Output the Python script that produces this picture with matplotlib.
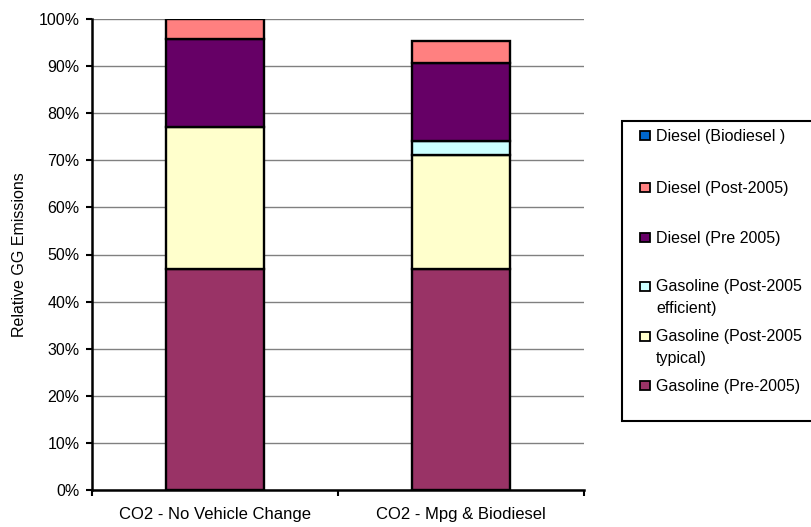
import matplotlib
matplotlib.use('Agg')
import matplotlib.pyplot as plt
from matplotlib.patches import Rectangle
import numpy as np

plt.rcParams['font.family'] = ['Liberation Sans', 'DejaVu Sans']

categories = ['CO2 - No Vehicle Change', 'CO2 - Mpg & Biodiesel']
series = ['Gasoline (Pre-2005)', 'Gasoline (Post-2005\ntypical)',
          'Gasoline (Post-2005\nefficient)', 'Diesel (Pre 2005)',
          'Diesel (Post-2005)', 'Diesel (Biodiesel )']
gas_pre = [47.0, 47.0]
gas_typical = [30.1, 24.1]
gas_efficient = [0.0, 2.9]
diesel_pre = [18.6, 16.7]
diesel_post = [4.3, 4.6]
diesel_bio = [0.0, 0.0]
values = [gas_pre, gas_typical, gas_efficient, diesel_pre, diesel_post, diesel_bio]
colors = ['#993366', '#FFFFCC', '#CCFFFF', '#660066', '#FF8080', '#0066CC']

W, H = 811, 527
fig = plt.figure(figsize=(W / 100, H / 100), dpi=100)
ax = fig.add_axes([92 / W, 1 - 490 / H, (584 - 92) / W, (490 - 19) / H])

x = np.arange(len(categories))
bottom = np.zeros(len(categories))
for vals, col in zip(values, colors):
    vals = np.array(vals)
    mask = vals > 0
    ax.bar(x[mask], vals[mask], 0.4, bottom=bottom[mask], color=col,
           edgecolor='black', linewidth=1.7, zorder=3)
    bottom += vals

ax.set_xlim(-0.5, 1.5)
ax.set_ylim(0, 100)
ax.set_yticks(np.arange(0, 101, 10))
ax.set_yticklabels([f'{v}%' for v in range(0, 101, 10)])
ax.yaxis.grid(True, color='#808080', linewidth=1, zorder=0)
ax.set_xticks([-0.5, 0.5, 1.5])
ax.set_xticklabels([])
ax.set_xticks(x, minor=True)
ax.set_xticklabels(categories, minor=True)
ax.tick_params(axis='x', which='minor', length=0, pad=12, labelsize=12)
ax.tick_params(axis='x', which='major', length=4, width=1.5, direction='out')
ax.tick_params(axis='y', length=4, width=1.5, pad=5, labelsize=11.5)
for s in ['top', 'right']:
    ax.spines[s].set_visible(False)
for s in ['left', 'bottom']:
    ax.spines[s].set_linewidth(1.8)
ax.set_ylabel('Relative GG Emissions', fontsize=11.5, labelpad=8)

# legend box (runs off the right edge like the original)
def fy(y):
    return 1 - y / H

fig.add_artist(Rectangle((622 / W, fy(421)), (830 - 622) / W, (421 - 121) / H,
                         transform=fig.transFigure, facecolor='white',
                         edgecolor='black', linewidth=1.5, clip_on=False))
leg_y = [385, 336, 286, 237.5, 187, 135]
for lab, col, yc in zip(series, colors, leg_y):
    fig.add_artist(Rectangle((640 / W, fy(yc + 4.5)), 10 / W, 9 / H,
                             transform=fig.transFigure, facecolor=col,
                             edgecolor='black', linewidth=1.3))
    for k, line in enumerate(lab.split('\n')):
        fig.text(656 / W, fy(yc + 1 + k * 21), line, fontsize=11.5,
                 va='center', ha='left')

fig.savefig('out.png', dpi=100)
